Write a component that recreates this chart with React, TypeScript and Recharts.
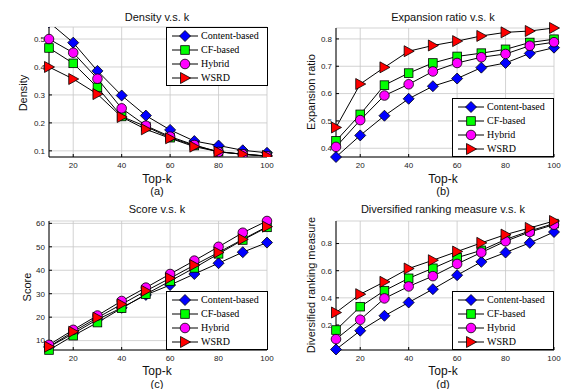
import React from "react";
import { LineChart, Line, XAxis, YAxis, CartesianGrid } from "recharts";

const topK = [10, 20, 30, 40, 50, 60, 70, 80, 90, 100];
const xTicks = [20, 40, 60, 80, 100];

// (a) Density
const densityContent = [0.56, 0.487, 0.386, 0.298, 0.226, 0.175, 0.135, 0.119, 0.102, 0.093];
const densityCF = [0.468, 0.413, 0.327, 0.223, 0.187, 0.147, 0.119, 0.097, 0.088, 0.081];
const densityHybrid = [0.5, 0.451, 0.358, 0.252, 0.19, 0.151, 0.121, 0.096, 0.088, 0.081];
const densityWSRD = [0.4, 0.357, 0.303, 0.221, 0.177, 0.145, 0.115, 0.097, 0.088, 0.082];

// (b) Expansion ratio
const expansionContent = [0.368, 0.447, 0.519, 0.581, 0.627, 0.655, 0.695, 0.712, 0.747, 0.768];
const expansionCF = [0.427, 0.524, 0.631, 0.675, 0.712, 0.736, 0.748, 0.762, 0.787, 0.799];
const expansionHybrid = [0.405, 0.503, 0.593, 0.634, 0.681, 0.712, 0.733, 0.745, 0.775, 0.788];
const expansionWSRD = [0.476, 0.635, 0.696, 0.755, 0.776, 0.792, 0.811, 0.824, 0.829, 0.84];

// (c) Score
const scoreContent = [7.3, 13, 19, 24, 29.5, 33.7, 38.4, 43, 47.7, 51.8];
const scoreCF = [6, 12.1, 17.7, 23.8, 29.8, 35.4, 41, 47, 52.9, 58.3];
const scoreHybrid = [8.2, 14.6, 20.7, 26.9, 32.6, 38.4, 44.1, 50, 56, 61];
const scoreWSRD = [7.4, 13.8, 19.8, 25.5, 31.2, 36.6, 42.2, 47.6, 53.2, 58.6];

// (d) Diversified ranking measure
const drmContent = [0.02, 0.158, 0.268, 0.366, 0.464, 0.567, 0.665, 0.734, 0.805, 0.885];
const drmCF = [0.163, 0.335, 0.453, 0.544, 0.618, 0.696, 0.75, 0.83, 0.893, 0.947];
const drmHybrid = [0.096, 0.239, 0.396, 0.484, 0.56, 0.65, 0.734, 0.817, 0.885, 0.939];
const drmWSRD = [0.292, 0.427, 0.518, 0.616, 0.677, 0.741, 0.805, 0.866, 0.915, 0.966];

const seriesNames = ["Content-based", "CF-based", "Hybrid", "WSRD"];
const seriesKeys = ["content", "cf", "hybrid", "wsrd"];
const seriesFill = ["#0000ff", "#00ff00", "#ff00ff", "#ff0000"];
const seriesShape = ["diamond", "square", "circle", "triangle"];

const makeRows = (a: number[], b: number[], c: number[], d: number[]) =>
  topK.map((k, i) => ({ k, content: a[i], cf: b[i], hybrid: c[i], wsrd: d[i] }));

const sans = "'Liberation Sans', Arial, sans-serif";
const serif = "'Liberation Serif', 'Times New Roman', serif";

function Marker({ cx, cy, shape, fill }: any) {
  if (cx == null || cy == null) return null;
  if (shape === "diamond") {
    const r = 5.5;
    return (
      <polygon
        points={`${cx},${cy - r} ${cx + r},${cy} ${cx},${cy + r} ${cx - r},${cy}`}
        fill={fill}
        stroke="#000"
        strokeWidth={0.8}
      />
    );
  }
  if (shape === "square") {
    const s = 4.3;
    return <rect x={cx - s} y={cy - s} width={s * 2} height={s * 2} fill={fill} stroke="#000" strokeWidth={0.8} />;
  }
  if (shape === "circle") {
    return <circle cx={cx} cy={cy} r={4.8} fill={fill} stroke="#000" strokeWidth={0.8} />;
  }
  return (
    <polygon
      points={`${cx - 4.5},${cy - 5.5} ${cx + 5.5},${cy} ${cx - 4.5},${cy + 5.5}`}
      fill={fill}
      stroke="#000"
      strokeWidth={0.8}
    />
  );
}

function LegendBox({ left, top }: { left: number; top: number }) {
  return (
    <div
      style={{
        position: "absolute",
        left,
        top,
        width: 102,
        height: 59,
        border: "1px solid #000",
        background: "#fff",
        boxSizing: "border-box",
        paddingTop: 1,
      }}
    >
      {seriesNames.map((name, i) => (
        <div key={name} style={{ display: "flex", alignItems: "center", height: 14 }}>
          <svg width={34} height={14} style={{ flex: "none" }}>
            <line x1={5} y1={7} x2={31} y2={7} stroke="#000" strokeWidth={1} />
            <Marker cx={18} cy={7} shape={seriesShape[i]} fill={seriesFill[i]} />
          </svg>
          <span style={{ fontFamily: serif, fontSize: 10, color: "#000", lineHeight: "14px", whiteSpace: "nowrap" }}>
            {name}
          </span>
        </div>
      ))}
    </div>
  );
}

type PanelProps = {
  left: number;
  top: number;
  width: number;
  height: number;
  plotLeft: number;
  plotRight: number;
  plotTop: number;
  plotBottom: number;
  data: any[];
  yDomain: [number, number];
  yTicks: number[];
  clipY?: boolean;
  legendLeft: number;
  legendTop: number;
};

function Panel(p: PanelProps) {
  return (
    <div style={{ position: "absolute", left: p.left, top: p.top, width: p.width, height: p.height }}>
      <LineChart
        width={p.width}
        height={p.height}
        data={p.data}
        margin={{ top: p.plotTop, right: p.width - p.plotRight, bottom: p.height - p.plotBottom - 20, left: 0 }}
      >
        <CartesianGrid stroke="#c8c8c8" strokeWidth={0.8} />
        <XAxis
          dataKey="k"
          type="number"
          domain={[10, 100]}
          ticks={xTicks}
          height={20}
          tickSize={-3}
          tickMargin={8}
          stroke="#000"
          tick={{ fontFamily: sans, fontSize: 8, fill: "#222" }}
        />
        <XAxis xAxisId="top" orientation="top" dataKey="k" type="number" domain={[10, 100]} ticks={xTicks} height={0} tick={false} tickSize={-3} stroke="#000" />
        <YAxis
          type="number"
          domain={p.yDomain}
          ticks={p.yTicks}
          width={p.plotLeft}
          tickSize={-3}
          tickMargin={7}
          stroke="#000"
          tick={{ fontFamily: sans, fontSize: 8, fill: "#222" }}
          allowDataOverflow={!!p.clipY}
        />
        <YAxis yAxisId="right" orientation="right" type="number" domain={p.yDomain} width={0} tick={false} tickLine={false} stroke="#000" />
        {seriesKeys.map((key, i) => (
          <Line
            key={key}
            dataKey={key}
            name={seriesNames[i]}
            stroke="#000"
            strokeWidth={1}
            isAnimationActive={false}
            dot={(dp: any) => <Marker key={`${key}-${dp.index}`} cx={dp.cx} cy={dp.cy} shape={seriesShape[i]} fill={seriesFill[i]} />}
            activeDot={false}
          />
        ))}
      </LineChart>
      <LegendBox left={p.legendLeft} top={p.legendTop} />
    </div>
  );
}

function Label({ x, y, text, size = 11, rotate = false }: { x: number; y: number; text: string; size?: number; rotate?: boolean }) {
  return (
    <div
      style={{
        position: "absolute",
        left: x,
        top: y,
        transform: `translate(-50%, -50%)${rotate ? " rotate(-90deg)" : ""}`,
        fontFamily: sans,
        fontSize: size,
        whiteSpace: "nowrap",
        color: "#111",
        lineHeight: 1,
      }}
    >
      {text}
    </div>
  );
}

export default function App() {
  return (
    <div style={{ position: "absolute", left: 0, top: 0, width: 561, height: 389, background: "#fff", overflow: "hidden" }}>
      <Panel
        left={0}
        top={0}
        width={280}
        height={195}
        plotLeft={49}
        plotRight={267}
        plotTop={27}
        plotBottom={157}
        data={makeRows(densityContent, densityCF, densityHybrid, densityWSRD)}
        yDomain={[0.078, 0.543]}
        yTicks={[0.1, 0.2, 0.3, 0.4, 0.5]}
        clipY
        legendLeft={166}
        legendTop={27}
      />
      <Panel
        left={280}
        top={0}
        width={281}
        height={195}
        plotLeft={56}
        plotRight={274}
        plotTop={28}
        plotBottom={157}
        data={makeRows(expansionContent, expansionCF, expansionHybrid, expansionWSRD)}
        yDomain={[0.368, 0.84]}
        yTicks={[0.4, 0.5, 0.6, 0.7, 0.8]}
        legendLeft={172}
        legendTop={98}
      />
      <Panel
        left={0}
        top={195}
        width={280}
        height={194}
        plotLeft={49}
        plotRight={267}
        plotTop={26}
        plotBottom={155}
        data={makeRows(scoreContent, scoreCF, scoreHybrid, scoreWSRD)}
        yDomain={[6, 61]}
        yTicks={[10, 20, 30, 40, 50, 60]}
        legendLeft={166}
        legendTop={96}
      />
      <Panel
        left={280}
        top={195}
        width={281}
        height={194}
        plotLeft={56}
        plotRight={274}
        plotTop={26}
        plotBottom={155}
        data={makeRows(drmContent, drmCF, drmHybrid, drmWSRD)}
        yDomain={[0.016, 0.966]}
        yTicks={[0.2, 0.4, 0.6, 0.8]}
        legendLeft={172}
        legendTop={96}
      />

      <Label x={157} y={17} text="Density v.s. k" />
      <Label x={443} y={17} text="Expansion ratio v.s. k" />
      <Label x={157} y={209} text="Score v.s. k" />
      <Label x={443} y={209} text="Diversified ranking measure v.s. k" />

      <Label x={157} y={179} text="Top-k" size={12} />
      <Label x={443} y={179} text="Top-k" size={12} />
      <Label x={157} y={371} text="Top-k" size={12} />
      <Label x={443} y={371} text="Top-k" size={12} />

      <Label x={157} y={191} text="(a)" size={11} />
      <Label x={443} y={191} text="(b)" size={11} />
      <Label x={157} y={384} text="(c)" size={11} />
      <Label x={443} y={384} text="(d)" size={11} />

      <Label x={23} y={93} text="Density" size={11} rotate />
      <Label x={311} y={92} text="Expansion ratio" size={11} rotate />
      <Label x={27} y={287} text="Score" size={11} rotate />
      <Label x={311} y={285} text="Diversified ranking measure" size={11} rotate />
    </div>
  );
}
